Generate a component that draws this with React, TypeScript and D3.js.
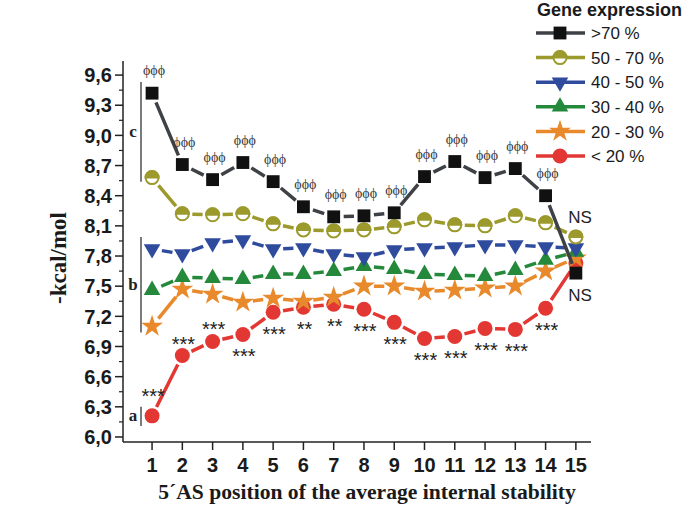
import React from "react";
import * as d3 from "d3";

const positions = [1, 2, 3, 4, 5, 6, 7, 8, 9, 10, 11, 12, 13, 14, 15];
const seriesNames = [">70 %", "50 - 70 %", "40 - 50 %", "30 - 40 %", "20 - 30 %", "< 20 %"];
const above70 = [9.42, 8.71, 8.56, 8.73, 8.54, 8.29, 8.19, 8.2, 8.23, 8.59, 8.74, 8.58, 8.67, 8.4, 7.63];
const from50to70 = [8.58, 8.22, 8.21, 8.22, 8.12, 8.06, 8.05, 8.06, 8.09, 8.16, 8.11, 8.1, 8.2, 8.13, 7.99];
const from40to50 = [7.87, 7.82, 7.93, 7.96, 7.87, 7.88, 7.82, 7.79, 7.86, 7.88, 7.89, 7.91, 7.91, 7.89, 7.88];
const from30to40 = [7.46, 7.59, 7.58, 7.57, 7.62, 7.62, 7.65, 7.7, 7.67, 7.62, 7.61, 7.6, 7.66, 7.76, 7.84];
const from20to30 = [7.1, 7.47, 7.42, 7.34, 7.38, 7.35, 7.39, 7.5, 7.5, 7.45, 7.46, 7.48, 7.5, 7.65, 7.78];
const below20 = [6.21, 6.81, 6.95, 7.02, 7.24, 7.29, 7.32, 7.27, 7.14, 6.98, 7.0, 7.08, 7.07, 7.28, 7.73];
const yTicks = [6.0, 6.3, 6.6, 6.9, 7.2, 7.5, 7.8, 8.1, 8.4, 8.7, 9.0, 9.3, 9.6];
const phiLabels = ["ϕϕϕ", "ϕϕϕ", "ϕϕϕ", "ϕϕϕ", "ϕϕϕ", "ϕϕϕ", "ϕϕϕ", "ϕϕϕ", "ϕϕϕ", "ϕϕϕ", "ϕϕϕ", "ϕϕϕ", "ϕϕϕ", "ϕϕϕ", ""];
const starLabels = ["***", "***", "***", "***", "***", "**", "**", "***", "***", "***", "***", "***", "***", "***", ""];
const starAbove = [true, true, true, false, false, false, false, false, false, false, false, false, false, false, false];
const groupLabels = ["c", "b", "a"];
const groupRanges = [[8.54, 9.53], [7.04, 7.99], [6.11, 6.3]];

const allSeries = [above70, from50to70, from40to50, from30to40, from20to30, below20];
const lineColors = ["#3e4246", "#9c9a2c", "#2f4b9d", "#25893b", "#e8892c", "#e23733"];
const markerColors = ["#111111", "#9c9a2c", "#2f4b9d", "#25893b", "#e8892c", "#e23733"];
const shapes = ["square", "halfcircle", "tridown", "triup", "star", "circle"];

const W = 685, H = 529;
const x = d3.scaleLinear().domain([0.04, 15.5]).range([123, 591]);
const y = d3.scaleLinear().domain([5.95, 9.74]).range([442, 61]);

function Marker({ shape, cx, cy, color }: { shape: string; cx: number; cy: number; color: string }) {
  if (shape === "square") {
    return <path d={d3.symbol().type(d3.symbolSquare).size(165)()!} transform={`translate(${cx},${cy})`} fill={color} />;
  }
  if (shape === "circle") {
    return <circle cx={cx} cy={cy} r={7.5} fill={color} />;
  }
  if (shape === "halfcircle") {
    const r = 6.5;
    return (
      <g transform={`translate(${cx},${cy})`}>
        <circle r={r} fill="#fff" stroke={color} strokeWidth={2} />
        <path d={`M${-r},0 A${r},${r} 0 0 1 ${r},0 Z`} fill={color} stroke={color} strokeWidth={2} />
      </g>
    );
  }
  if (shape === "tridown") {
    return <path d={d3.symbol().type(d3.symbolTriangle).size(120)()!} transform={`translate(${cx},${cy}) rotate(180)`} fill={color} />;
  }
  if (shape === "triup") {
    return <path d={d3.symbol().type(d3.symbolTriangle).size(120)()!} transform={`translate(${cx},${cy})`} fill={color} />;
  }
  return <path d={d3.symbol().type(d3.symbolStar).size(150)()!} transform={`translate(${cx},${cy})`} fill={color} />;
}

function gappedSegments(pts: [number, number][], gap: number) {
  const segs: string[] = [];
  for (let i = 0; i < pts.length - 1; i++) {
    const [x1, y1] = pts[i];
    const [x2, y2] = pts[i + 1];
    const dx = x2 - x1, dy = y2 - y1;
    const len = Math.hypot(dx, dy);
    if (len <= 2 * gap) continue;
    const ux = dx / len, uy = dy / len;
    segs.push(`M${x1 + ux * gap},${y1 + uy * gap}L${x2 - ux * gap},${y2 - uy * gap}`);
  }
  return segs.join("");
}

export default function App() {
  const sans = "'Liberation Sans', Arial, sans-serif";
  const serif = "'Liberation Serif', 'Times New Roman', serif";
  const minorTicks = d3.range(6.15, 9.7, 0.3);
  const order = [5, 4, 3, 2, 1, 0];
  return (
    <svg width={W} height={H} style={{ position: "absolute", left: 0, top: 0, background: "#fff" }} fontFamily={sans}>
      {/* axes */}
      <line x1={123} x2={123} y1={61} y2={442} stroke="#222" strokeWidth={1.5} />
      <line x1={123} x2={591} y1={442} y2={442} stroke="#222" strokeWidth={1.5} />
      {yTicks.map((t) => (
        <g key={t}>
          <line x1={115} x2={123} y1={y(t)} y2={y(t)} stroke="#222" strokeWidth={1.5} />
          <text x={112} y={y(t)} dy="0.36em" textAnchor="end" fontSize={20} fontWeight="bold" fill="#1a1a1a">
            {t.toFixed(1).replace(".", ",")}
          </text>
        </g>
      ))}
      {minorTicks.map((t) => (
        <line key={t} x1={119} x2={123} y1={y(t)} y2={y(t)} stroke="#222" strokeWidth={1.2} />
      ))}
      {positions.map((p) => (
        <g key={p}>
          <line x1={x(p)} x2={x(p)} y1={442} y2={450} stroke="#222" strokeWidth={1.5} />
          <text x={x(p)} y={472} textAnchor="middle" fontSize={20} fontWeight="bold" fill="#1a1a1a">
            {p}
          </text>
        </g>
      ))}
      <text x={367} y={499} textAnchor="middle" fontSize={21.6} fontWeight="bold" fontFamily={serif} fill="#1a1a1a">
        5´AS position of the average internal stability
      </text>
      <text transform="translate(66,258) rotate(-90)" textAnchor="middle" fontSize={23} fontWeight="bold" fontFamily={serif} fill="#1a1a1a">
        -kcal/mol
      </text>

      {/* group brackets */}
      {groupLabels.map((g, i) => (
        <g key={g}>
          <line x1={141} x2={141} y1={y(groupRanges[i][1])} y2={y(groupRanges[i][0])} stroke="#333" strokeWidth={1.3} />
          <text x={133} y={y((groupRanges[i][0] + groupRanges[i][1]) / 2)} dy="0.3em" textAnchor="middle" fontSize={17} fontWeight="bold" fontFamily={serif} fill="#222">
            {g}
          </text>
        </g>
      ))}

      {/* series */}
      {order.map((si) => {
        const pts = allSeries[si].map((v, i) => [x(positions[i]), y(v)] as [number, number]);
        return (
          <g key={si}>
            <path d={gappedSegments(pts, 10)} stroke={lineColors[si]} strokeWidth={3.5} fill="none" />
            {pts.map((p, i) => (
              <Marker key={i} shape={shapes[si]} cx={p[0]} cy={p[1]} color={markerColors[si]} />
            ))}
          </g>
        );
      })}

      {/* annotations */}
      {phiLabels.map((l, i) =>
        l ? (
          <text key={"phi" + i} x={x(positions[i]) + 2} y={y(above70[i]) - 22 + 4} textAnchor="middle" fontSize={14} fontFamily={serif} fill="#3a3a3a">
            {l}
          </text>
        ) : null
      )}
      {starLabels.map((l, i) =>
        l ? (
          <text
            key={"st" + i}
            x={x(positions[i]) + 1}
            y={y(below20[i]) + (starAbove[i] ? (i === 0 ? -24 : -16) : 18) + 11}
            textAnchor="middle"
            fontSize={20}
            fill="#222"
          >
            {l}
          </text>
        ) : null
      )}
      <text x={580} y={217} dy="0.36em" textAnchor="middle" fontSize={17} fill="#222">NS</text>
      <text x={580} y={295} dy="0.36em" textAnchor="middle" fontSize={17} fill="#222">NS</text>

      {/* legend */}
      <text x={537} y={16} fontSize={18} fontWeight="bold" fill="#1a1a1a">Gene expression</text>
      {seriesNames.map((n, i) => {
        const ly = 33 + i * 24.6;
        return (
          <g key={n}>
            <line x1={536} x2={585} y1={ly} y2={ly} stroke={lineColors[i]} strokeWidth={3.5} />
            <Marker shape={shapes[i]} cx={560} cy={ly} color={markerColors[i]} />
            <text x={591} y={ly} dy="0.36em" fontSize={17} fill="#1a1a1a">{n}</text>
          </g>
        );
      })}
    </svg>
  );
}
